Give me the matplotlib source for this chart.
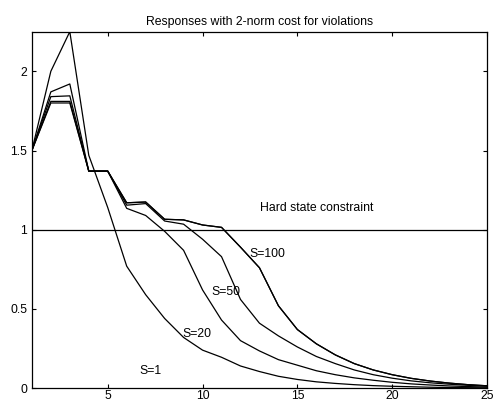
import matplotlib
matplotlib.use("Agg")
import matplotlib.pyplot as plt

plt.rcParams["font.family"] = ["Liberation Sans", "DejaVu Sans"]

# Sample index
k = list(range(1, 26))

# Responses for different violation weights S
s1 = [1.5, 2.0, 2.25, 1.47, 1.14, 0.77, 0.59, 0.44, 0.32, 0.24, 0.195, 0.14, 0.105,
      0.075, 0.055, 0.04, 0.03, 0.022, 0.016, 0.012, 0.009, 0.006, 0.004, 0.003, 0.002]
s20 = [1.5, 1.87, 1.92, 1.37, 1.37, 1.135, 1.09, 0.99, 0.87, 0.62, 0.43, 0.30, 0.235,
       0.18, 0.145, 0.11, 0.085, 0.065, 0.05, 0.037, 0.027, 0.02, 0.014, 0.01, 0.007]
s50 = [1.5, 1.84, 1.845, 1.37, 1.37, 1.155, 1.165, 1.055, 1.035, 0.94, 0.83, 0.56, 0.41,
       0.33, 0.26, 0.2, 0.155, 0.115, 0.085, 0.063, 0.046, 0.034, 0.025, 0.018, 0.013]
s100 = [1.5, 1.81, 1.81, 1.37, 1.37, 1.17, 1.175, 1.066, 1.062, 1.03, 1.015, 0.89, 0.76,
        0.52, 0.37, 0.28, 0.21, 0.155, 0.115, 0.085, 0.062, 0.045, 0.032, 0.022, 0.015]
hard = [1.5, 1.80, 1.80, 1.37, 1.37, 1.17, 1.175, 1.066, 1.062, 1.03, 1.015, 0.89, 0.76,
        0.52, 0.37, 0.28, 0.21, 0.155, 0.115, 0.085, 0.062, 0.045, 0.032, 0.022, 0.015]

constraint = 1.0

fig = plt.figure(figsize=(4.98, 4.01), dpi=100)
ax = fig.add_axes([0.064, 0.032, 0.914, 0.889])

for y in [s1, s20, s50, s100, hard]:
    ax.plot(k, y, color="black", lw=0.9)
ax.axhline(constraint, color="black", lw=0.9)

# Labels
fs = 8.8
ax.text(13.05, 1.14, "Hard state constraint", fontsize=fs, va="center")
ax.text(12.47, 0.845, "S=100", fontsize=fs, va="center")
ax.text(10.47, 0.606, "S=50", fontsize=fs, va="center")
ax.text(8.95, 0.34, "S=20", fontsize=fs, va="center")
ax.text(6.68, 0.107, "S=1", fontsize=fs, va="center")

ax.set_xlim(1, 25)
ax.set_ylim(0, 2.25)
ax.set_xticks([5, 10, 15, 20, 25])
ax.set_yticks([0, 0.5, 1, 1.5, 2])
ax.set_yticklabels(["0", "0.5", "1", "1.5", "2"])
ax.tick_params(direction="in", top=True, right=True, labelsize=fs, length=3, width=0.8)
ax.tick_params(axis="x", pad=1.2)
for sp in ax.spines.values():
    sp.set_linewidth(0.9)
ax.set_title("Responses with 2-norm cost for violations", fontsize=fs, pad=5)

fig.savefig("out.png", dpi=100)
